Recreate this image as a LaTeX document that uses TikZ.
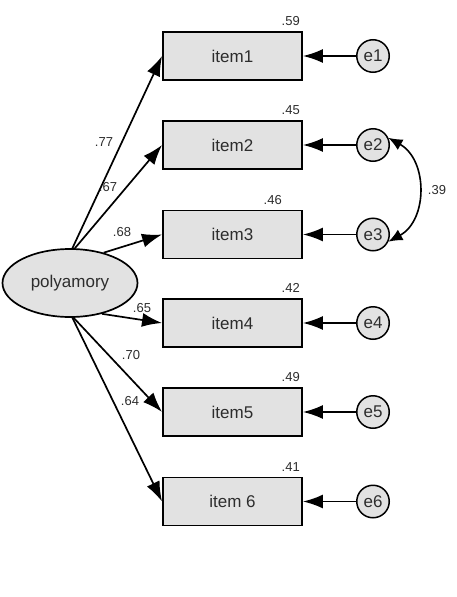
\documentclass[tikz,border=0pt]{standalone}
\usepackage{fontspec}
\setmainfont{Liberation Sans}
\usetikzlibrary{arrows.meta,shapes.geometric}
\definecolor{boxfill}{RGB}{226,226,226}
\definecolor{txt}{RGB}{45,45,45}
\begin{document}
\begin{tikzpicture}[x=1pt,y=-1pt,
  obs/.style={draw, line width=1.9pt, fill=boxfill, minimum width=139pt, minimum height=48pt, inner sep=0pt,
              font=\fontsize{17}{19}\selectfont, text=txt},
  err/.style={circle, draw, line width=1.5pt, fill=boxfill, minimum size=32.5pt, inner sep=0pt,
              font=\fontsize{17}{19}\selectfont, text=txt},
  lat/.style={ellipse, draw, line width=1.7pt, fill=boxfill, minimum width=135pt, minimum height=68pt, inner sep=0pt,
              font=\fontsize{17}{19}\selectfont, text=txt},
  load/.style={line width=1.7pt, -{Latex[length=20pt,width=14pt]}},
  coef/.style={font=\fontsize{13}{15}\selectfont, text=txt, inner sep=0pt},
  rsq/.style={coef, anchor=south east},
]
\useasboundingbox (0,0) rectangle (456,597);
\fill[white] (0,0) rectangle (456,597);

% latent
\node[lat] (poly) at (70,283) {polyamory};

% observed
\node[obs] (i1) at (232.5,56) {item1};
\node[obs] (i2) at (232.5,145) {item2};
\node[obs] (i3) at (232.5,234.5) {item3};
\node[obs] (i4) at (232.5,323) {item4};
\node[obs] (i5) at (232.5,412) {item5};
\node[obs] (i6) at (232.5,501.5) {item 6};

% errors
\node[err] (e1) at (373,56) {e1};
\node[err] (e2) at (373,145) {e2};
\node[err] (e3) at (373,234.5) {e3};
\node[err] (e4) at (373,323) {e4};
\node[err] (e5) at (373,412) {e5};
\node[err] (e6) at (373,501.5) {e6};

% R-squared
\node[rsq] (r1) at ([xshift=-3pt,yshift=5pt]i1.north east) {.59};
\node[rsq] (r2) at ([xshift=-3pt,yshift=5pt]i2.north east) {.45};
\node[rsq] (r3) at ([xshift=-21pt,yshift=5pt]i3.north east) {.46};
\node[rsq] (r4) at ([xshift=-3pt,yshift=5pt]i4.north east) {.42};
\node[rsq] (r5) at ([xshift=-3pt,yshift=5pt]i5.north east) {.49};
\node[rsq] (r6) at ([xshift=-3pt,yshift=5pt]i6.north east) {.41};

% loadings
\draw[load] (poly.86) -- (i1.west);
\draw[load] (poly.82) -- (i2.west);
\draw[load] (poly.42) -- (i3.west);
\draw[load] (poly.-44) -- (i4.west);
\draw[load] (poly.-84) -- (i5.west);
\draw[load] (poly.-86) -- (i6.west);

\node[coef] (l1) at (104,142) {.77};
\node[coef] (l2) at (108,187) {.67};
\node[coef] (l3) at (122,232) {.68};
\node[coef] (l4) at (142,308) {.65};
\node[coef] (l5) at (131,355) {.70};
\node[coef] (l6) at (130,401) {.64};

% error paths
\foreach \k in {1,...,6}{
  \draw[load] (e\k) -- (i\k.east);
}

% covariance
\draw[line width=1.6pt, {Latex[length=14pt,width=12pt]}-{Latex[length=14pt,width=12pt]}]
  (e2.25) .. controls (428,160) and (428,220) .. (e3.-25);
\node[coef] (c23) at (437,190) {.39};
\end{tikzpicture}
\end{document}
